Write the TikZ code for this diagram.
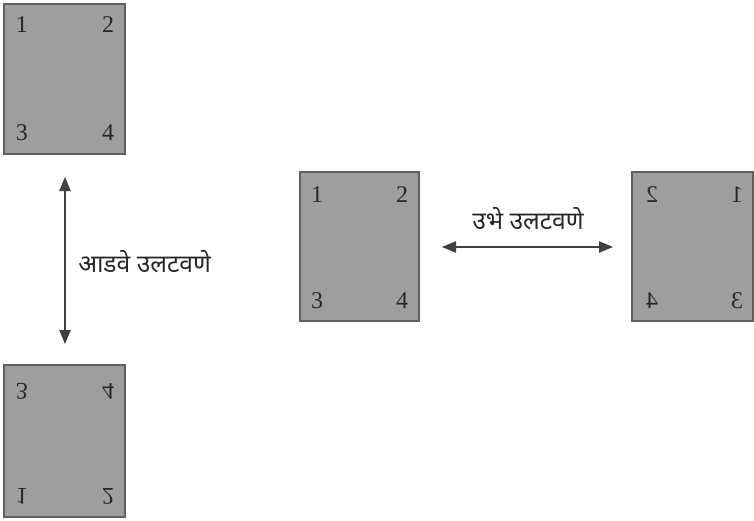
\documentclass[tikz,border=0pt]{standalone}
\usepackage{graphicx}
\usepackage{fontspec}
\setmainfont{Liberation Serif}
\newfontfamily\devfont[Script=Devanagari]{Noto Sans}
\usetikzlibrary{arrows.meta}
\definecolor{pagefill}{RGB}{158,158,158}
\definecolor{pageedge}{RGB}{95,95,95}
\definecolor{digit}{RGB}{40,40,40}
\tikzset{
  page/.style={draw=pageedge, fill=pagefill, line width=0.9pt},
  num/.style={text=digit, font=\fontsize{18}{18}\selectfont, inner sep=0pt},
  flipline/.style={draw=black!75, line width=0.9pt, {Triangle[length=10.5pt,width=8.5pt]}-{Triangle[length=10.5pt,width=8.5pt]}},
  lbl/.style={font=\devfont\fontsize{18.5}{19}\selectfont, text=black!85, inner sep=0pt}
}
\newcommand{\vflip}[1]{\scalebox{1}[-1]{#1}}
\begin{document}
\begin{tikzpicture}[x=0.75pt,y=-0.75pt]
\useasboundingbox (0,0) rectangle (754,521);
% top-left original
\draw[page] (4,4) rectangle (125,154);
\node[num] (a1) at (22,25) {1};
\node[num] (a2) at (108,25) {2};
\node[num] (a3) at (22,133) {3};
\node[num] (a4) at (108,133) {4};
% bottom-left vertically flipped
\draw[page] (4,365) rectangle (125,517);
\node[num] (b3) at (22,391) {\vflip{3}};
\node[num] (b4) at (108,391) {\vflip{4}};
\node[num] (b1) at (22,496) {\vflip{1}};
\node[num] (b2) at (108,496) {\vflip{2}};
% middle original
\draw[page] (300,172) rectangle (419,321);
\node[num] (c1) at (317,195) {1};
\node[num] (c2) at (402,195) {2};
\node[num] (c3) at (317,301) {3};
\node[num] (c4) at (402,301) {4};
% right horizontally flipped
\draw[page] (632,172) rectangle (753,321);
\node[num] (d2) at (652,195) {\reflectbox{2}};
\node[num] (d1) at (737,195) {\reflectbox{1}};
\node[num] (d4) at (652,301) {\reflectbox{4}};
\node[num] (d3) at (737,301) {\reflectbox{3}};
% arrows
\coordinate (vt) at (65,177);
\coordinate (vb) at (65,344);
\draw[flipline] (vt) -- (vb);
\coordinate (hl) at (442,247);
\coordinate (hr) at (613,247);
\draw[flipline] (hl) -- (hr);
% labels
\node[lbl, anchor=west] (lv) at (78,262) {आडवे उलटवणे};
\node[lbl] (lh) at (528,219) {उभे उलटवणे};
\end{tikzpicture}
\end{document}
